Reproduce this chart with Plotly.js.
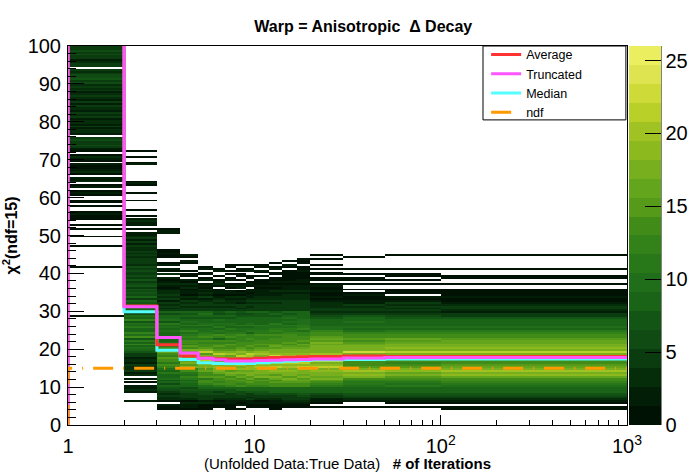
<!DOCTYPE html>
<html>
<head>
<meta charset="utf-8">
<script src="https://cdn.plot.ly/plotly-3.0.1.min.js"></script>
<style>
  html, body { margin: 0; padding: 0; background: #fff; }
  #chart { width: 696px; height: 472px; }
</style>
</head>
<body>
<div id="chart"></div>
<script>
// -----------------------------
// Data
// -----------------------------
// iteration bin edges (x, log axis)
const iterEdges = [1, 2, 3, 4, 5, 6, 7, 8, 9, 10, 12, 14, 17, 20, 30, 50, 100, 1000];
// chi2 bins: 0..100, 0.5 wide
const chi2Max = 100;
const chi2BinWidth = 0.5;

// entries per chi2 bin, one base-36 char per 0.5 bin starting at chi2 = 0
// (spaces only split the strings into 5-unit chunks)
const col01 = "0000000000 0000000000 0000000000 0000000000 0000000000 0000000100 0000000000 0000000000 0001000000 0000100001 0001010011 1210010110 0121021032 2013211201 2310124655 6402332423 3243523342 4235324353 6576643405 4325465654";
const col02 = "0000000000 0020000232 2010203243 3423324579 a8c9b7dac9 9b8a7c9a68 8969785967 6757657465 5646354535 3433524243 2201022320 1001000010 0010001210 0000000210 0100100000";
const col03 = "0000000011 2013343567 8697a89b8a cdbedfcegi dbca99a98a 8a9b7a8968 4353524343 3212321203 0120210011 2110000000 0221000000";
const col04 = "0000000012 2313445676 89a8bcabdc hfigehfjgi efcedbcbac a9b8a97879 4534342312 2132312011 0100012012";
const col05 = "0000000011 1324456678 acdebfdegf ihkgljiflh fdecdbecba a9ba8978a8 5434532423 2312102101 1021000000";
const col06 = "0000000001 1213446578 bdcedfegih jhkgmjhlif efdce9cdab 9b8a9a7867 4534343212 2101321010 0210000000";
const col07 = "0000000011 1223545779 cdedfeghfi hjiljhgkif edfcdbecba b9aa897878 4435332312 2012102101 0101100000";
const col08 = "0000000010 2123456689 dcefegfhgj ikjhmilhjg fedecccdba a9b9898767 4344232312 1022101011 0110100000";
const col09 = "0000000001 1224355789 cdfegfhigj jikgjiklhf efddcecc9b a9ba898768 5434343221 2101210110 0210100000";
const col10 = "0000000001 1213456789 cedfehgihj kjimhjikjg fefdeccdbb aab9998778 5444343322 2212111010 1201100000";
const col11 = "0000000011 1223456889 defeghfiji ljkijknjih fgfedecdbc baab998787 5445343322 3212121101 1021010000";
const col12 = "0000000001 1234556899 defghfihji kjlimjkjih gfefedddcb bab9a9a878 5454443332 3222121111 1101201000";
const col13 = "0000000001 1234567899 defgfhgihj ljmimkljih gfgefedcca cbbaaa9888 5545443332 3222122111 1211011100";
const col14 = "0000000001 0122456889 bcdfhgihjh ljimlkjkih ihghfgfedc aa99887653 4433321211 2112101101 1010100101";
const col15 = "0000000001 0023467889 abbcdhjikh fedefgfinh ihgfefedca 9a98a98743 4534221121 0100101101 0010000010";
const col16 = "0000000001 0123467899 babcefhgjh fdcdefgilh jihgfgedcb 9a98897643 4353421201 1100101011 0010000001";
const col17 = "0000000011 0123467899 abcdegjhki gfedefgimh jihggfedcb 9a89987542 3443211211 1100100110 0010000001";
const columnCounts = [col01, col02, col03, col04, col05, col06, col07, col08, col09,
                      col10, col11, col12, col13, col14, col15, col16, col17];

// per-iteration summary histograms (one value per column)
const avgValues    = [130, 31.4, 21.2, 18.2, 17.7, 17.5, 17.4, 17.4, 17.4, 17.6, 17.8, 17.9, 18.0, 18.1, 18.2, 18.1, 18.1];
const truncValues  = [150, 31.2, 23.1, 19.0, 17.6, 17.2, 16.9, 16.9, 16.9, 17.0, 17.1, 17.2, 17.3, 17.4, 17.7, 17.8, 17.8];
const medianValues = [120, 29.9, 19.7, 17.3, 16.4, 16.2, 16.2, 16.2, 16.2, 16.4, 16.6, 16.8, 17.0, 17.2, 17.3, 17.4, 17.4];
const ndfValues    = [15, 15, 15, 15, 15, 15, 15, 15, 15, 15, 15, 15, 15, 15, 15, 15, 15];

// palette bands, bottom to top
const bandColors = [
  "rgb(0,18,3)", "rgb(3,30,6)", "rgb(5,45,10)", "rgb(10,60,15)", "rgb(15,75,18)",
  "rgb(18,85,20)", "rgb(25,100,22)", "rgb(32,110,25)", "rgb(40,120,25)", "rgb(50,130,25)",
  "rgb(65,140,25)", "rgb(85,155,25)", "rgb(100,165,30)", "rgb(120,175,30)", "rgb(140,185,30)",
  "rgb(160,195,35)", "rgb(185,208,40)", "rgb(205,218,55)", "rgb(222,228,80)", "rgb(235,238,95)"
];
const zMax = 26;
const cbarTicks = [0, 5, 10, 15, 20, 25];
const xTickVals = [1, 10, 100, 1000];
const xTickText = ["1", "10", "10<sup>2</sup>", "10<sup>3</sup>"];
const xMinorVals = [2, 3, 4, 5, 6, 7, 8, 9, 20, 30, 40, 50, 60, 70, 80, 90, 200, 300, 400, 500, 600, 700, 800, 900];

// -----------------------------
// Build traces
// -----------------------------
const nY = Math.round(chi2Max / chi2BinWidth);
const yEdges = [];
for (let j = 0; j <= nY; j++) yEdges.push(j * chi2BinWidth);

const z = [];
for (let j = 0; j < nY; j++) z.push(new Array(columnCounts.length).fill(null));
columnCounts.forEach((s, i) => {
  const chars = s.replace(/ /g, "");
  for (let j = 0; j < nY && j < chars.length; j++) {
    const n = parseInt(chars[j], 36);
    if (n > 0) z[j][i] = n;
  }
});

// discrete colour scale (one flat band per palette entry)
const colorscale = [];
bandColors.forEach((c, k) => {
  colorscale.push([k / bandColors.length, c]);
  colorscale.push([(k + 1) / bandColors.length, c]);
});

// step line through the bins, starting from 0 at the left edge like ROOT "hist"
function stepTrace(values, name, color, rank, dash) {
  const xs = [iterEdges[0]];
  const ys = [0];
  values.forEach((v, i) => { xs.push(iterEdges[i]); ys.push(v); });
  xs.push(iterEdges[iterEdges.length - 1]);
  ys.push(values[values.length - 1]);
  return {
    type: "scatter", mode: "lines", x: xs, y: ys, name: name,
    line: { shape: "hv", width: 3, color: color, dash: dash || "solid" },
    legendrank: rank, hoverinfo: "skip"
  };
}

const heat = {
  type: "heatmap",
  x: iterEdges,
  y: yEdges,
  z: z,
  zmin: 0,
  zmax: zMax,
  colorscale: colorscale,
  showlegend: false,
  hoverinfo: "skip",
  colorbar: {
    x: 1.0036, xanchor: "left", xpad: 0, ypad: 0,
    y: 0.5, yanchor: "middle", len: 1, lenmode: "fraction",
    thickness: 32, thicknessmode: "pixels",
    outlinewidth: 0,
    ticks: "inside", ticklen: 16, tickwidth: 1, tickcolor: "#000",
    tickmode: "array", tickvals: cbarTicks,
    tickfont: { size: 20, color: "#000" }
  }
};

const traces = [
  heat,
  stepTrace(medianValues, "Median", "#55ffff", 3),
  stepTrace(avgValues, "Average", "#ff3333", 1),
  stepTrace(truncValues, "Truncated", "#ff55ff", 2),
  stepTrace(ndfValues, "ndf", "#ff9900", 4, "20px,10px,1px,10px")
];

// -----------------------------
// Layout
// -----------------------------
const layout = {
  width: 696,
  height: 472,
  margin: { l: 68, r: 69, t: 46, b: 47, autoexpand: false },
  paper_bgcolor: "#fff",
  plot_bgcolor: "#fff",
  font: { family: "Liberation Sans, Arial, sans-serif", color: "#000" },
  title: {
    text: "<b>Warp = Anisotropic  Δ Decay</b>",
    font: { size: 16 },
    x: 0.522, xref: "container", xanchor: "center",
    y: 0.945, yref: "container", yanchor: "middle"
  },
  xaxis: {
    type: "log",
    range: [0, 3],
    tickmode: "array", tickvals: xTickVals, ticktext: xTickText,
    ticks: "inside", ticklen: 10, tickwidth: 1, tickcolor: "#000",
    minor: { tickmode: "array", tickvals: xMinorVals, ticks: "inside", ticklen: 5, tickcolor: "#000", showgrid: false },
    ticklabelstandoff: 3,
    tickfont: { size: 20 },
    showline: true, linecolor: "#000", linewidth: 1, mirror: true,
    showgrid: false, zeroline: false,
    title: {
      text: "(Unfolded Data:True Data)   <b># of Iterations</b>",
      font: { size: 15 },
      standoff: 7
    }
  },
  yaxis: {
    range: [0, 100],
    tickmode: "linear", tick0: 0, dtick: 10,
    ticks: "inside", ticklen: 16, tickwidth: 1, tickcolor: "#000",
    minor: { dtick: 2, ticks: "inside", ticklen: 8, tickcolor: "#000", showgrid: false },
    ticklabelstandoff: 2,
    tickfont: { size: 20 },
    showline: true, linecolor: "#000", linewidth: 1, mirror: true,
    showgrid: false, zeroline: false,
    title: {
      text: "<b>χ<sup>2</sup>(ndf=15)</b>",
      font: { size: 16 },
      standoff: 8
    }
  },
  showlegend: true,
  legend: {
    x: 0.748, y: 1.016, xanchor: "left", yanchor: "top",
    bgcolor: "rgba(255,255,255,0)", borderwidth: 0,
    font: { size: 12.5 },
    tracegroupgap: 0, itemwidth: 30
  },
  shapes: [
    // legend frame
    { type: "rect", xref: "paper", yref: "paper", x0: 0.7424, x1: 0.998, y0: 0.805, y1: 1.0,
      line: { color: "#000", width: 1 }, fillcolor: "#fff", layer: "above" },
    // palette axis line
    { type: "line", xref: "paper", yref: "paper", x0: 1.0608, x1: 1.0608, y0: 0, y1: 1,
      line: { color: "#000", width: 1 } }
  ]
};

Plotly.newPlot("chart", traces, layout, { displayModeBar: false, staticPlot: true });
</script>
</body>
</html>
